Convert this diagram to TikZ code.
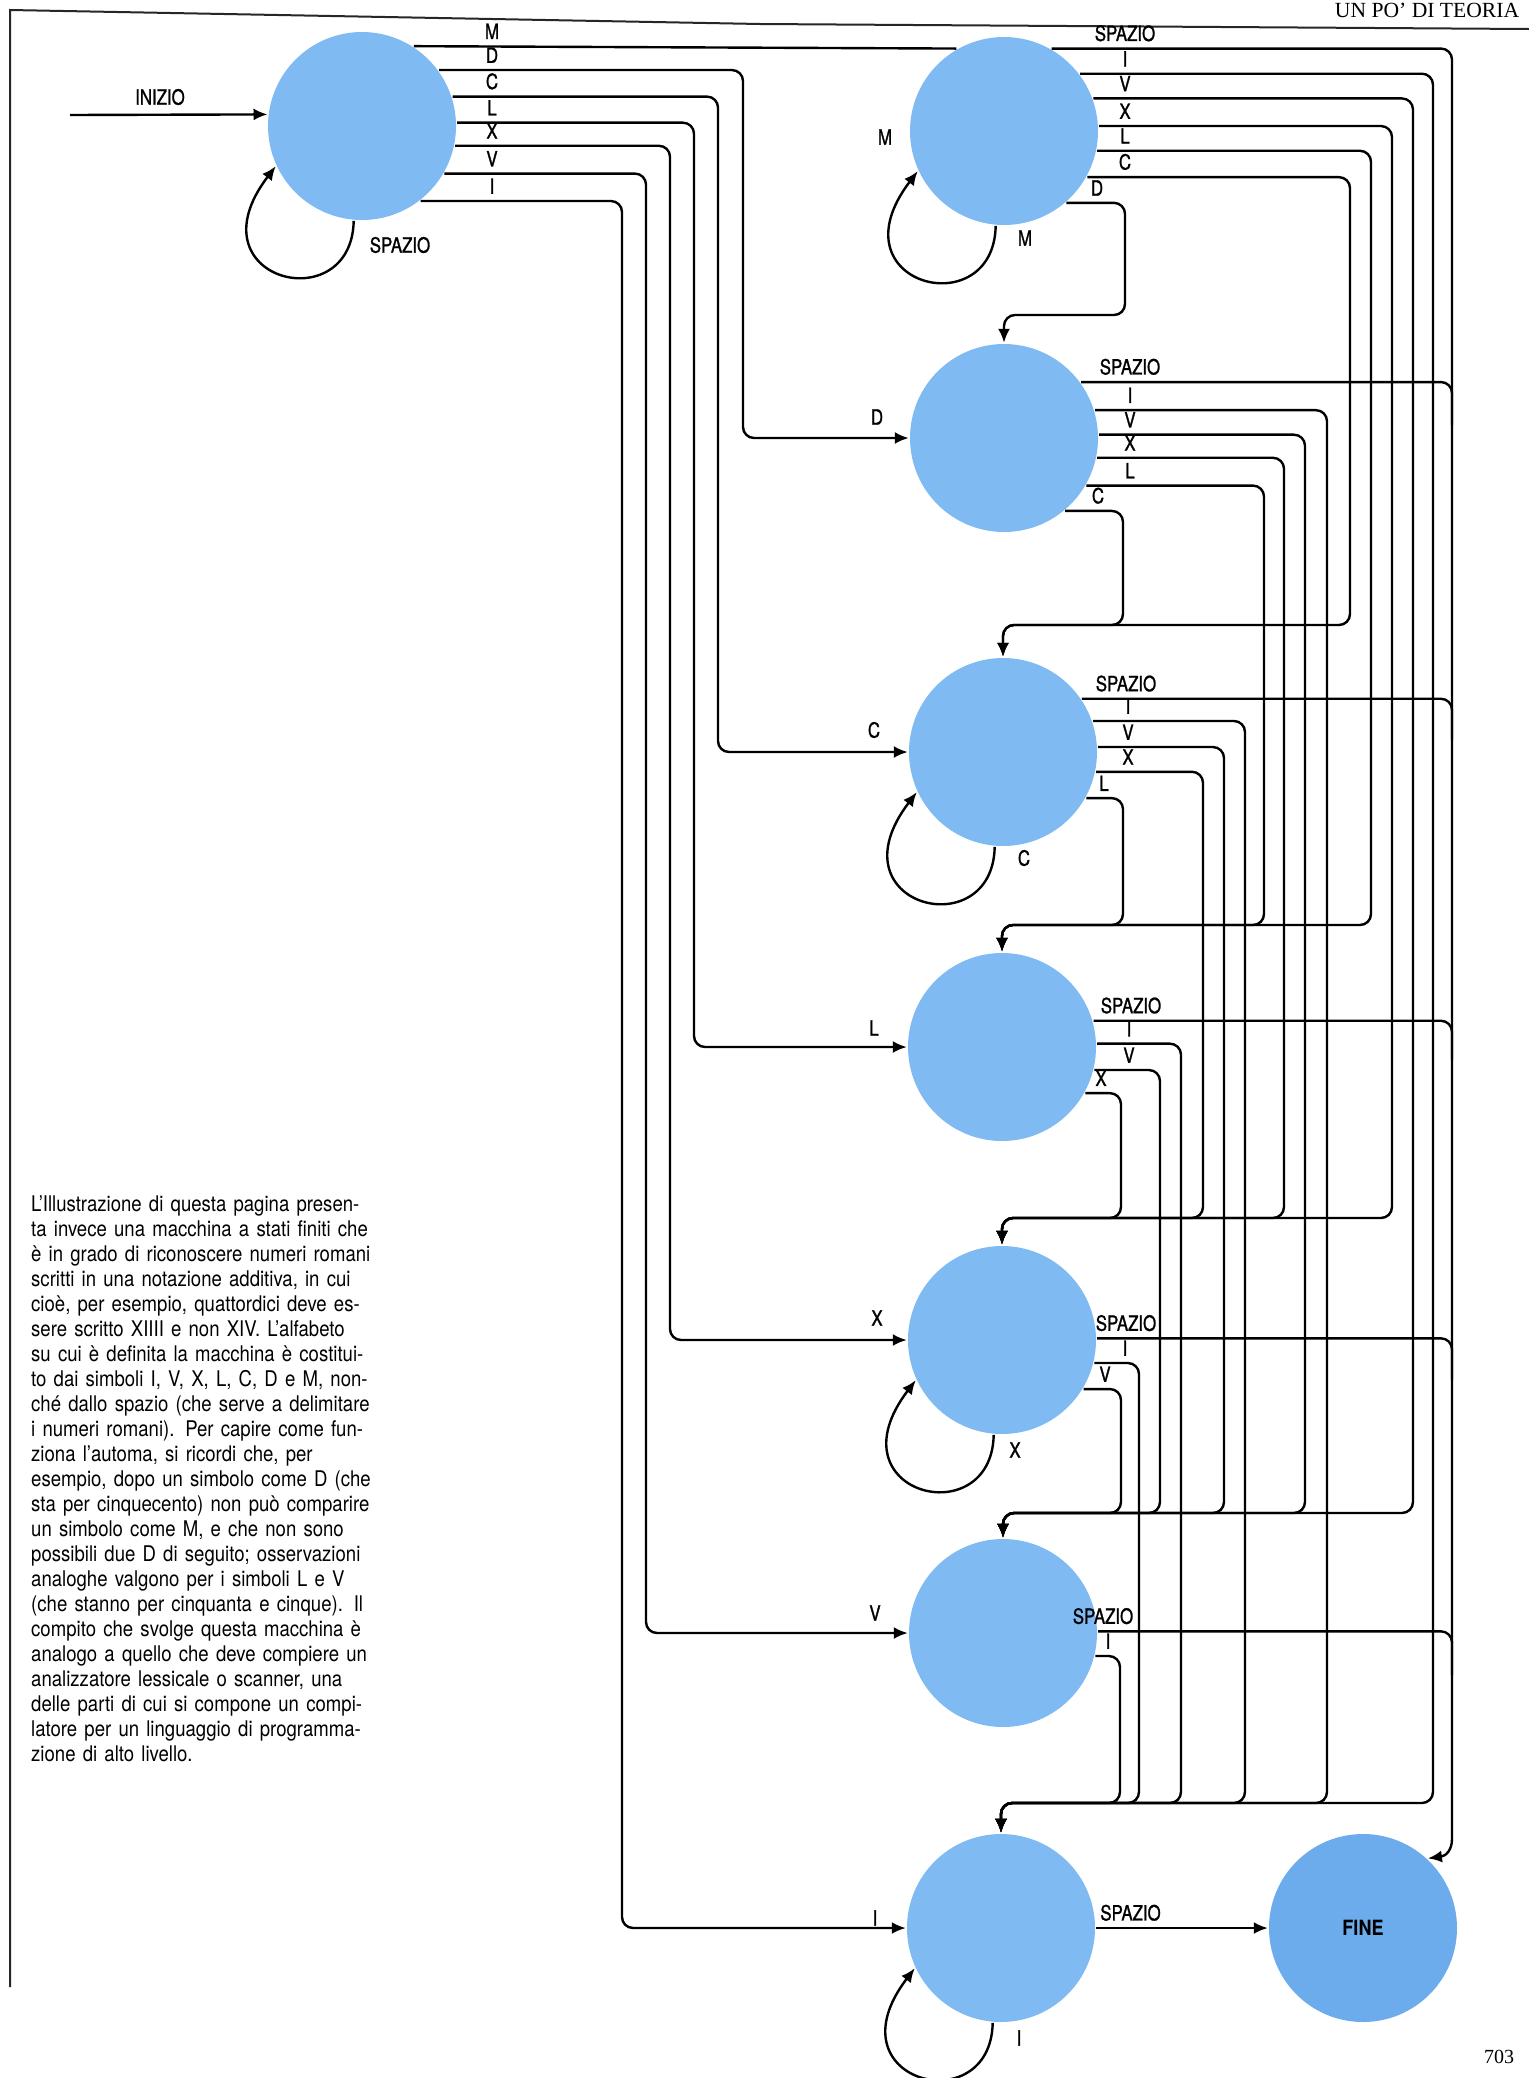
\documentclass[tikz,border=0pt]{standalone}
\usepackage{fontspec}
\setmainfont{TeX Gyre Heros}[FakeStretch=0.86]
\newfontfamily\etich{TeX Gyre Heros}[FakeStretch=0.8,FakeBold=1.2]
\newfontfamily\serifpag{Liberation Serif}[Ligatures=TeX]
\usetikzlibrary{arrows.meta,positioning,calc}
\definecolor{azzurro}{RGB}{128,186,242}
\definecolor{azzurroF}{RGB}{108,172,236}
\newcommand\riga[1]{\makebox[\linewidth][s]{#1}\\}

\begin{document}
\begin{tikzpicture}[x=.5pt,y=-.5pt,>={Latex[length=7pt,width=6pt]},line width=1.2pt,
  stato/.style={circle,fill=azzurro,minimum size=94pt,inner sep=0pt},
  tr/.style={rounded corners=5.5pt},
  lab/.style={font=\etich\fontsize{10.5}{12}\selectfont,inner sep=1pt}]
\useasboundingbox (0,0) rectangle (1529,2078);
\draw[line width=1pt,black!85] (1529,29)--(760,24)--(10,10)--(10,1987);
\node[anchor=base east,font=\serifpag\fontsize{10.8}{13}\selectfont] (testata) at (1527,17) {UN PO' DI TEORIA};
\node[font=\serifpag\fontsize{10}{12}\selectfont] (npag) at (1499,2057) {703};
% stati
\node[stato] (S0) at (362,126) {};
\node[stato] (SM) at (1004,131) {}; \node[stato] (SD) at (1004,438) {};
\node[stato] (SC) at (1003,752) {}; \node[stato] (SL) at (1002,1047) {};
\node[stato] (SX) at (1002,1340) {}; \node[stato] (SV) at (1003,1633) {};
\node[stato] (SI) at (1001,1928) {};
\node[stato,fill=azzurroF,font=\bfseries\fontsize{10.5}{12}\selectfont] (FINE) at (1363,1928) {FINE};
% ingresso e anelli
\coordinate (inizio) at (70,115); \draw[->] (inizio) -- (S0.173); \node[lab] (lInizio) at (160,97) {INIZIO};
\foreach \st/\t/\dx/\dy in {S0/SPAZIO/38/119,SM/M/21/107,SC/C/21/106,SX/X/13/110,SI/I/18/110}{
  \draw[->] (\st.265) .. controls +(-2,100) and +(-87,114) .. (\st.205);
  \node[lab] (anello\st) at ($(\st)+(\dx,\dy)$) {\t};}
% dallo stato iniziale
\coordinate (colS0) at (492,0);
\draw (S0.57) -- (SM.120);
\foreach \a/\xb/\st in {36/743/SD,18/718/SC,2/694/SL,-12/670/SX,-30/646/SV,-52/622/SI}
  \draw[tr,->] (S0.\a) -| (\xb,300) |- (\st.west);
\foreach \a/\t in {57/M,36/D,18/C,2/L,-12/X,-30/V,-52/I}
  \node[lab,above=2pt] (u\t) at (S0.\a -| colS0) {\t};
\foreach \st/\t/\dx/\dy in {SM/M/-119/6,SD/D/-127/-21,SC/C/-129/-22,SL/L/-128/-19,SX/X/-125/-22,SV/V/-128/-20,SI/I/-126/-10}
  \node[lab] (in\st) at ($(\st)+(\dx,\dy)$) {\t};
% spazio verso FINE
\draw[tr,->] (SM.60) -| (1452,1828) .. controls (1452,1850) and (1446,1856) .. (FINE.47);
\foreach \st/\a/\ye in {SD/36/425,SC/34/740,SL/16/1060,SX/1/1380,SV/1/1675}
  \draw[tr] (\st.\a) -| (1452,\ye);
\draw[->] (SI) -- (FINE) node[lab,above=2pt,pos=.2] (lSISPAZIO) {SPAZIO};
% verso gli stati successivi
\foreach \st/\a/\xb/\yb/\dest in {SM/37/1433/1803/SI,SM/20/1413/1513/SV,SM/3/1392/1218/SX,SM/-12/1371/925/SL,SM/-29/1350/625/SC,SM/-49/1125/315/SD,
  SD/17/1327/1803/SI,SD/2/1305/1513/SV,SD/-12/1284/1218/SX,SD/-30/1264/925/SL,SD/-50/1123/625/SC,
  SC/19/1245/1803/SI,SC/3/1224/1513/SV,SC/-12/1203/1218/SX,SC/-29/1123/925/SL,
  SL/2/1181/1803/SI,SL/-14/1160/1513/SV,SL/-29/1121/1218/SX,
  SX/-14/1139/1803/SI,SX/-31/1121/1513/SV,
  SV/-14/1120/1803/SI}
  \draw[tr,->] (\st.\a) -| (\xb,\yb) -| (\dest.north);
\foreach \st/\a/\xl/\t in {SM/60/1125/SPAZIO,SM/37/1125/I,SM/20/1125/V,SM/3/1125/X,SM/-12/1125/L,SM/-29/1125/C,SM/-49/1097/D,
  SD/36/1130/SPAZIO,SD/17/1130/I,SD/2/1130/V,SD/-12/1130/X,SD/-30/1130/L,SD/-50/1098/C,
  SC/34/1126/SPAZIO,SC/19/1128/I,SC/3/1128/V,SC/-12/1128/X,SC/-29/1104/L,
  SL/16/1131/SPAZIO,SL/2/1129/I,SL/-14/1129/V,SL/-29/1101/X,
  SX/1/1126/SPAZIO,SX/-14/1125/I,SX/-31/1105/V,
  SV/1/1103/SPAZIO,SV/-14/1108/I}
  \node[lab,above=2pt] (l\st\t) at (\st.\a -| \xl,0) {\t};
% testo
\node[anchor=base west,text width=170pt,inner sep=0pt,font=\fontsize{10.8}{12.5}\selectfont] (testo) at (30,1211) {%
\riga{L'Illustrazione di questa pagina presen-}
\riga{ta invece una macchina a stati finiti che}
\riga{è in grado di riconoscere numeri romani}
\riga{scritti in una notazione additiva, in cui}
\riga{cioè, per esempio, quattordici deve es-}
\riga{sere scritto XIIII e non XIV. L'alfabeto}
\riga{su cui è definita la macchina è costitui-}
\riga{to dai simboli I, V, X, L, C, D e M, non-}
\riga{ché dallo spazio (che serve a delimitare}
\riga{i numeri romani). Per capire come fun-}
\riga{ziona l'automa, si ricordi che, per}
\riga{esempio, dopo un simbolo come D (che}
\riga{sta per cinquecento) non può comparire}
\riga{un simbolo come M, e che non sono}
\riga{possibili due D di seguito; osservazioni}
\riga{analoghe valgono per i simboli L e V}
\riga{(che stanno per cinquanta e cinque). Il}
\riga{compito che svolge questa macchina è}
\riga{analogo a quello che deve compiere un}
\riga{analizzatore lessicale o scanner, una}
\riga{delle parti di cui si compone un compi-}
\riga{latore per un linguaggio di programma-}
zione di alto livello.};
\end{tikzpicture}
\end{document}
